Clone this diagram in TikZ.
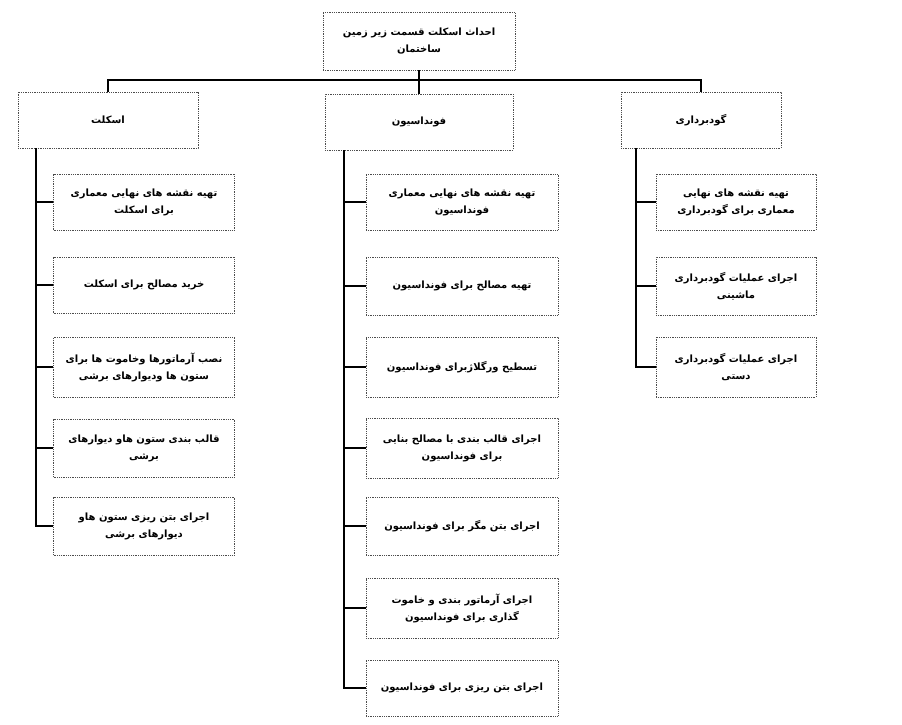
\documentclass[tikz,border=0pt]{standalone}
\usepackage{fontspec}
\newfontfamily\farsi[Script=Arabic]{DejaVu Sans}
\TeXXeTstate=1
\newcommand{\fa}[1]{\beginR #1\endR}
\tikzset{
  box/.style={draw=black!70, densely dotted, thick, align=center, inner sep=2pt,
    font=\farsi\bfseries\fontsize{10}{17}\selectfont},
  bar/.style={line width=2.2pt}
}
\begin{document}
\begin{tikzpicture}[x=1pt, y=-1pt]
  \useasboundingbox (0,0) rectangle (902,725);
  % Top
  \node[box, minimum width=192pt, minimum height=58pt] (top) at (419,41) {\fa{احداث اسکلت قسمت زیر زمین}\\\fa{ساختمان}};
  % Main branches
  \node[box, minimum width=180pt, minimum height=56pt] (skel) at (108,120) {\fa{اسکلت}};
  \node[box, minimum width=188pt, minimum height=56pt] (found) at (419,122) {\fa{فونداسیون}};
  \node[box, minimum width=160pt, minimum height=56pt] (exc) at (701,120) {\fa{گودبرداری}};

  \coordinate (hub) at (419,80);
  \draw[bar] (top.south) -- (hub);
  \draw[bar] (skel.north) |- (hub) -| (exc.north);
  \draw[bar] (hub) -- (found.north);

  % Skeleton column
  \node[box, minimum width=181pt, minimum height=56pt] (s1) at (144,202) {\fa{تهیه نقشه های نهایی معماری}\\\fa{برای اسکلت}};
  \node[box, minimum width=181pt, minimum height=56pt] (s2) at (144,285) {\fa{خرید مصالح برای اسکلت}};
  \node[box, minimum width=181pt, minimum height=60pt] (s3) at (144,367) {\fa{نصب آرماتورها وخاموت ها برای}\\\fa{ستون ها ودیوارهای برشی}};
  \node[box, minimum width=181pt, minimum height=58pt] (s4) at (144,448) {\fa{قالب بندی ستون هاو دیوارهای}\\\fa{برشی}};
  \node[box, minimum width=181pt, minimum height=58pt] (s5) at (144,526) {\fa{اجرای بتن ریزی ستون هاو}\\\fa{دیوارهای برشی}};
  \coordinate (sl) at (36,148);
  \draw[bar] (sl) |- (s5.west);
  \foreach \n in {s1,s2,s3,s4} \draw[bar] (\n.west -| sl) -- (\n.west);

  % Foundation column
  \node[box, minimum width=192pt, minimum height=56pt] (f1) at (462,202) {\fa{تهیه نقشه های نهایی معماری}\\\fa{فونداسیون}};
  \node[box, minimum width=192pt, minimum height=58pt] (f2) at (462,286) {\fa{تهیه مصالح برای فونداسیون}};
  \node[box, minimum width=192pt, minimum height=60pt] (f3) at (462,367) {\fa{تسطیح ورگلاژبرای فونداسیون}};
  \node[box, minimum width=192pt, minimum height=60pt] (f4) at (462,448) {\fa{اجرای قالب بندی با مصالح بنایی}\\\fa{برای فونداسیون}};
  \node[box, minimum width=192pt, minimum height=58pt] (f5) at (462,526) {\fa{اجرای بتن مگر برای فونداسیون}};
  \node[box, minimum width=192pt, minimum height=60pt] (f6) at (462,608) {\fa{اجرای آرماتور بندی و خاموت}\\\fa{گذاری برای فونداسیون}};
  \node[box, minimum width=192pt, minimum height=56pt] (f7) at (462,688) {\fa{اجرای بتن ریزی برای فونداسیون}};
  \coordinate (fl) at (344,150);
  \draw[bar] (fl) |- (f7.west);
  \foreach \n in {f1,f2,f3,f4,f5,f6} \draw[bar] (\n.west -| fl) -- (\n.west);

  % Excavation column
  \node[box, minimum width=160pt, minimum height=56pt] (e1) at (736,202) {\fa{تهیه نقشه های نهایی}\\\fa{معماری برای گودبرداری}};
  \node[box, minimum width=160pt, minimum height=58pt] (e2) at (736,286) {\fa{اجرای عملیات گودبرداری}\\\fa{ماشینی}};
  \node[box, minimum width=160pt, minimum height=60pt] (e3) at (736,367) {\fa{اجرای عملیات گودبرداری}\\\fa{دستی}};
  \coordinate (el) at (636,148);
  \draw[bar] (el) |- (e3.west);
  \foreach \n in {e1,e2} \draw[bar] (\n.west -| el) -- (\n.west);
\end{tikzpicture}
\end{document}
